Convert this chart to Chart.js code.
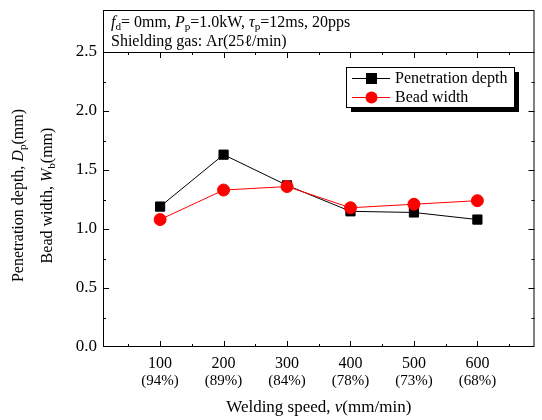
<!DOCTYPE html>
<html>
<head>
<meta charset="utf-8">
<script src="https://cdn.jsdelivr.net/npm/chart.js@4"></script>
<style>
  html, body { margin: 0; padding: 0; background: #fff; }
  #wrap { width: 542px; height: 420px; }
</style>
</head>
<body>
<div id="wrap"><canvas id="chart" width="542" height="420"></canvas></div>
<script>
// data
const speeds = [100, 200, 300, 400, 500, 600];
const speedPct = ['(94%)', '(89%)', '(84%)', '(78%)', '(73%)', '(68%)'];
const penetrationDepth = [1.19, 1.63, 1.37, 1.15, 1.14, 1.08];
const beadWidth = [1.08, 1.33, 1.36, 1.18, 1.21, 1.24];
const seriesNames = ['Penetration depth', 'Bead width'];
const yTicks = [0.0, 0.5, 1.0, 1.5, 2.0, 2.5];

const SERIF = '"Liberation Serif", "Times New Roman", serif';

// draws a run of text pieces with italic / subscript parts
function richWidth(ctx, parts, size) {
  let w = 0;
  parts.forEach(p => {
    const s = p.sub ? size * 0.7 : size;
    ctx.font = (p.it ? 'italic ' : '') + s + 'px ' + SERIF;
    w += ctx.measureText(p.t).width;
  });
  return w;
}
function drawRich(ctx, parts, x, y, size) {
  parts.forEach(p => {
    const s = p.sub ? size * 0.7 : size;
    ctx.font = (p.it ? 'italic ' : '') + s + 'px ' + SERIF;
    ctx.fillText(p.t, x, p.sub ? y + size * 0.2 : y);
    x += ctx.measureText(p.t).width;
  });
}

const decor = {
  id: 'decor',
  afterDraw(chart) {
    const ctx = chart.ctx;
    const a = chart.chartArea;
    const xs = chart.scales.x, ys = chart.scales.y;
    ctx.save();
    ctx.strokeStyle = '#000';
    ctx.fillStyle = '#000';
    ctx.lineWidth = 1;

    // frame
    ctx.strokeRect(a.left + 0.5, a.top + 0.5, a.right - a.left - 1, a.bottom - a.top - 1);

    // inward ticks on all four sides
    ctx.beginPath();
    for (let v = 50; v < xs.max; v += 50) {
      const px = Math.round(xs.getPixelForValue(v)) + 0.5;
      const len = v % 100 === 0 ? 6 : 3;
      ctx.moveTo(px, a.bottom); ctx.lineTo(px, a.bottom - len);
      ctx.moveTo(px, a.top); ctx.lineTo(px, a.top + len);
    }
    for (let v = 0.25; v < ys.max; v += 0.25) {
      const py = Math.round(ys.getPixelForValue(v)) + 0.5;
      const len = Math.abs(v * 2 - Math.round(v * 2)) < 1e-6 ? 6 : 3;
      ctx.moveTo(a.left, py); ctx.lineTo(a.left + len, py);
      ctx.moveTo(a.right, py); ctx.lineTo(a.right - len, py);
    }
    ctx.stroke();

    // percentage line under the speed ticks
    ctx.font = '15px ' + SERIF;
    ctx.textAlign = 'center';
    ctx.textBaseline = 'middle';
    speeds.forEach((s, i) => {
      ctx.fillText(speedPct[i], xs.getPixelForValue(s), a.bottom + 34);
    });

    // x axis title
    ctx.textBaseline = 'alphabetic';
    ctx.textAlign = 'left';
    const xt = [{ t: 'Welding speed, ' }, { t: 'v', it: true }, { t: '(mm/min)' }];
    const xw = richWidth(ctx, xt, 17);
    drawRich(ctx, xt, (a.left + a.right) / 2 - xw / 2, 412, 17);

    // y axis title, two rotated lines
    const yl1 = [{ t: 'Penetration depth, ' }, { t: 'D', it: true }, { t: 'p', sub: true }, { t: '(mm)' }];
    const yl2 = [{ t: 'Bead width, ' }, { t: 'W', it: true }, { t: 'b', sub: true }, { t: '(mm)' }];
    const cy = (a.top + a.bottom) / 2 - 4;
    [[yl1, 23], [yl2, 52]].forEach(([parts, bx]) => {
      ctx.save();
      ctx.translate(bx, cy);
      ctx.rotate(-Math.PI / 2);
      const w = richWidth(ctx, parts, 16);
      drawRich(ctx, parts, -w / 2, 0, 16);
      ctx.restore();
    });

    // condition box above the plot
    ctx.strokeRect(a.left + 0.5, 10.5, a.right - a.left - 1, a.top - 10);
    const c1 = [
      { t: 'f', it: true }, { t: 'd', sub: true }, { t: '= 0mm, ' },
      { t: 'P', it: true }, { t: 'p', sub: true }, { t: '=1.0kW, ' },
      { t: 'τ', it: true }, { t: 'p', sub: true }, { t: '=12ms, 20pps' }
    ];
    drawRich(ctx, c1, a.left + 8, 27, 16);
    drawRich(ctx, [{ t: 'Shielding gas: Ar(25ℓ/min)' }], a.left + 8, 46, 16);

    // legend with drop shadow
    const lx = 346, ly = 67, lw = 168, lh = 40;
    ctx.fillRect(lx + 5, ly + 5, lw, lh);
    ctx.fillStyle = '#fff';
    ctx.fillRect(lx, ly, lw, lh);
    ctx.strokeRect(lx + 0.5, ly + 0.5, lw, lh);
    const rows = [
      { color: '#000', shape: 'rect', y: ly + 11 },
      { color: '#ff0000', shape: 'circle', y: ly + 30 }
    ];
    rows.forEach((r, i) => {
      ctx.strokeStyle = r.color;
      ctx.fillStyle = r.color;
      ctx.beginPath();
      ctx.moveTo(lx + 6, r.y + 0.5); ctx.lineTo(lx + 44, r.y + 0.5);
      ctx.stroke();
      if (r.shape === 'rect') {
        ctx.fillRect(lx + 20, r.y - 5, 11, 11);
      } else {
        ctx.beginPath();
        ctx.arc(lx + 25.5, r.y + 0.5, 6, 0, Math.PI * 2);
        ctx.fill();
      }
      ctx.fillStyle = '#000';
      ctx.font = '16px ' + SERIF;
      ctx.textAlign = 'left';
      ctx.textBaseline = 'middle';
      ctx.fillText(seriesNames[i], lx + 49, r.y + 1);
    });
    ctx.restore();
  }
};

const ctx = document.getElementById('chart').getContext('2d');
new Chart(ctx, {
  type: 'line',
  data: {
    datasets: [
      {
        label: seriesNames[0],
        data: speeds.map((s, i) => ({ x: s, y: penetrationDepth[i] })),
        borderColor: '#000', backgroundColor: '#000', borderWidth: 1,
        pointStyle: 'rect', pointRadius: 6.5, pointHoverRadius: 6.5,
        order: 1
      },
      {
        label: seriesNames[1],
        data: speeds.map((s, i) => ({ x: s, y: beadWidth[i] })),
        borderColor: '#ff0000', backgroundColor: '#ff0000', borderWidth: 1,
        pointStyle: 'circle', pointRadius: 6, pointHoverRadius: 6,
        order: 0
      }
    ]
  },
  options: {
    responsive: false,
    animation: false,
    devicePixelRatio: 1,
    layout: { padding: { top: 52, right: 7, left: 0, bottom: 0 } },
    plugins: { legend: { display: false }, tooltip: { enabled: false } },
    scales: {
      x: {
        type: 'linear', min: 10, max: 690,
        afterBuildTicks: (s) => { s.ticks = speeds.map(v => ({ value: v })); },
        afterFit: (s) => { s.height = 73; },
        grid: { display: false, drawTicks: false },
        border: { display: false },
        ticks: { color: '#000', font: { family: SERIF, size: 16 }, padding: 7, maxRotation: 0,
          callback: (v) => String(v) }
      },
      y: {
        min: 0, max: 2.5,
        afterBuildTicks: (s) => { s.ticks = yTicks.map(v => ({ value: v })); },
        afterFit: (s) => { s.width = 103; },
        grid: { display: false, drawTicks: false },
        border: { display: false },
        ticks: { color: '#000', font: { family: SERIF, size: 17 }, padding: 6,
          callback: (v) => v.toFixed(1) }
      }
    }
  },
  plugins: [decor]
});
</script>
</body>
</html>
